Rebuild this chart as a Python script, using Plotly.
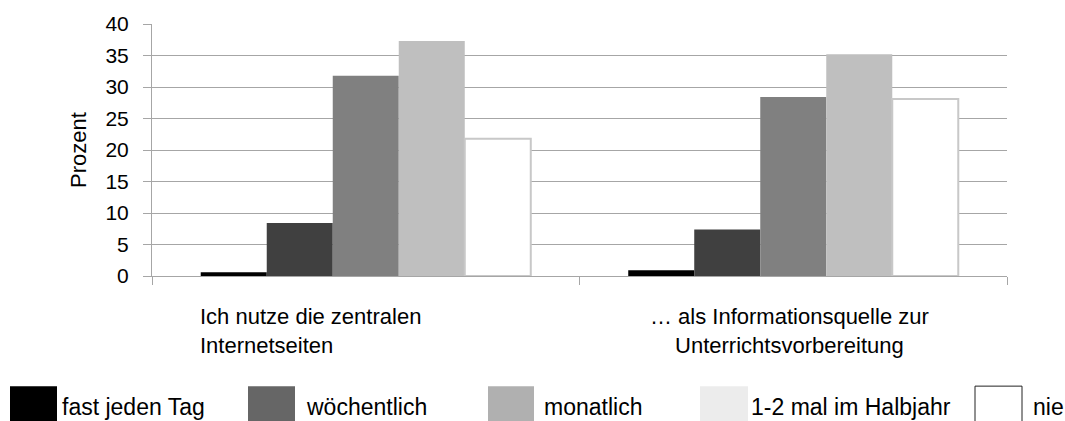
import plotly.graph_objects as go

# ---------------- data ----------------
categories = ["Ich nutze die zentralen<br>Internetseiten",
              "… als Informationsquelle zur<br>Unterrichtsvorbereitung"]
series_names = ["fast jeden Tag", "wöchentlich", "monatlich",
                "1-2 mal im Halbjahr", "nie"]
fast_jeden_tag = [0.6, 0.9]
woechentlich = [8.4, 7.4]
monatlich = [31.8, 28.4]
halbjahr = [37.3, 35.2]
nie = [21.8, 28.1]
series_values = [fast_jeden_tag, woechentlich, monatlich, halbjahr, nie]
y_tick_values = [0, 5, 10, 15, 20, 25, 30, 35, 40]

# ---------------- styles ----------------
bar_colors = ["#000000", "#404040", "#808080", "#bfbfbf", "#ffffff"]
bar_line_colors = ["#000000", "#404040", "#808080", "#bfbfbf", "#c8c8c8"]
legend_colors = ["#000000", "#666666", "#b0b0b0", "#ececec", "#ffffff"]
legend_line_colors = [None, None, None, None, "#222222"]
FONT = "Liberation Sans, Arial, sans-serif"
GRID = "#a6a6a6"

W, H = 1065, 421
ML, MR, MT, MB = 152, 58, 22, 145
PW, PH = W - ML - MR, H - MT - MB


def px_x(px):
    return (px - ML) / PW


def px_y(py):
    return (H - MB - py) / PH


fig = go.Figure()
for name, vals, col, lcol in zip(series_names, series_values, bar_colors, bar_line_colors):
    fig.add_trace(go.Bar(
        x=categories, y=vals, name=name,
        marker=dict(color=col, line=dict(color=lcol, width=2 if col == "#ffffff" else 0)),
        showlegend=False,
    ))

# category labels as annotations (first left aligned, second centred)
label_specs = [dict(xanchor="left", align="left", xshift=-168),
               dict(xanchor="center", align="center", xshift=-4)]
for cat, spec in zip(categories, label_specs):
    fig.add_annotation(
        x=cat, xref="x", y=px_y(302), yref="paper", yanchor="top",
        text=cat, showarrow=False, font=dict(family=FONT, size=22, color="#000000"),
        **spec)

# custom legend strip at the bottom
sw_x0 = [10, 248, 488, 700, 975]
sw_x1 = [57, 295, 534, 748, 1022]
txt_x = [60, 304, 542, 749, 1031]
for name, col, lc, x0, x1, tx in zip(series_names, legend_colors, legend_line_colors,
                                     sw_x0, sw_x1, txt_x):
    fig.add_shape(type="rect", xref="paper", yref="paper",
                  x0=px_x(x0), x1=px_x(x1), y0=px_y(430), y1=px_y(387),
                  fillcolor=col,
                  line=dict(color=lc if lc else col, width=1 if lc else 0))
    fig.add_annotation(x=px_x(tx), xref="paper", y=px_y(408), yref="paper",
                       xanchor="left", yanchor="middle", text=name, showarrow=False,
                       font=dict(family=FONT, size=23, color="#000000"))

fig.update_layout(
    width=W, height=H,
    margin=dict(l=ML, r=MR, t=MT, b=MB, pad=0),
    paper_bgcolor="white", plot_bgcolor="white",
    barmode="group", bargap=0.228, bargroupgap=0,
    font=dict(family=FONT, size=21, color="#000000"),
)
fig.update_xaxes(
    showticklabels=False, ticks="outside", tickson="boundaries", ticklen=8,
    tickcolor=GRID, showgrid=False, showline=True, linecolor=GRID, linewidth=1,
    zeroline=False,
)
fig.update_yaxes(
    range=[0, 40], tickvals=y_tick_values, ticks="outside", ticklen=8, tickcolor=GRID,
    showgrid=True, gridcolor=GRID, gridwidth=1, showline=True, linecolor=GRID,
    zeroline=False, ticklabelstandoff=10,
    tickfont=dict(family=FONT, size=21, color="#000000"),
    title=dict(text="Prozent", font=dict(family=FONT, size=22, color="#000000"), standoff=12),
)

fig.write_html(
    "out.html",
    config={"displayModeBar": False},
    post_script="document.body.style.margin='0';document.body.style.overflow='hidden';",
)
